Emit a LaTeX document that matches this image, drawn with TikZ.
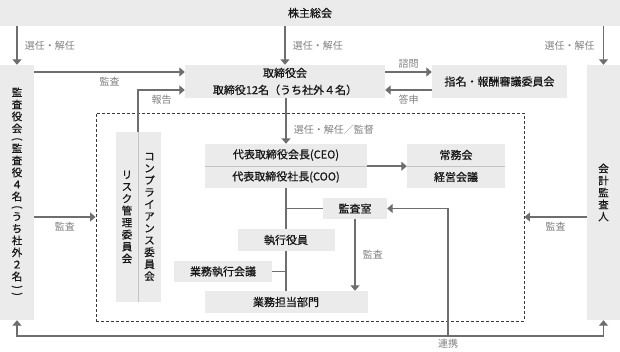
\documentclass[tikz,border=0pt]{standalone}
\usepackage{fontspec}
\setmainfont{Noto Sans CJK JP}
\newfontfamily\boxfont{Noto Sans CJK JP}[FakeBold=0.7]
\usetikzlibrary{arrows.meta}
\definecolor{boxfill}{HTML}{EBEBEB}
\definecolor{ink}{HTML}{161616}
\definecolor{wire}{HTML}{6E6E6E}
\definecolor{note}{HTML}{808080}
\definecolor{rule}{HTML}{C4C4C4}
\definecolor{frameline}{HTML}{3A3A3A}
\tikzset{
  box/.style={fill=boxfill,inner sep=0pt,text=ink,align=center,font=\boxfont\fontsize{11}{13}\selectfont},
  vbox/.style={box,font=\boxfont\fontsize{10.5}{12}\selectfont},
  lbl/.style={font=\fontsize{10}{12}\selectfont,text=note,inner sep=2pt},
  arr/.style={-{Triangle[length=5.5pt,width=9pt]},wire,line width=1.6pt},
  arr2/.style={{Triangle[length=5.5pt,width=9pt]}-{Triangle[length=5.5pt,width=9pt]},wire,line width=1.6pt},
  link/.style={wire,line width=1.6pt},
}

\begin{document}
\begin{tikzpicture}[x=1pt,y=-1pt]
\useasboundingbox (0,0) rectangle (620,351);
\node[draw=frameline,dash pattern=on 3pt off 2pt,line width=0.9pt,minimum width=428pt,minimum height=208pt,inner sep=0pt] (frame) at (310,217) {};
\node[box,minimum width=620pt,minimum height=26pt] (shm) at (310,13) {株主総会};
\node[vbox,minimum width=34pt,minimum height=255pt] (kansa) at (17,192.5)
  {監\\査\\役\\会\\[-2pt]\rotatebox[origin=c]{-90}{(}\\[-2pt]監\\査\\役\\４\\名\\[-2pt]\rotatebox[origin=c]{-90}{(}\\[-2pt]う\\ち\\社\\外\\２\\名\\[-2pt]\rotatebox[origin=c]{-90}{)}\\[-5pt]\rotatebox[origin=c]{-90}{)}};
\node[vbox,minimum width=33pt,minimum height=255pt] (kaikei) at (603.5,192.5) {会\\計\\監\\査\\人};
\node[box,font=\boxfont\fontsize{11}{17}\selectfont,minimum width=200pt,minimum height=33pt] (board) at (285,81.5)
  {取締役会\\取締役12名（うち社外４名）};
\node[box,minimum width=135pt,minimum height=33pt] (nomi) at (499.5,81.5) {指名・報酬審議委員会};
\node[box,minimum width=162pt,minimum height=22pt] (ceo) at (286,155) {代表取締役会長(CEO)};
\node[box,minimum width=162pt,minimum height=22pt] (coo) at (286,177) {代表取締役社長(COO)};
\node[box,minimum width=98pt,minimum height=22pt] (jomu) at (456,155) {常務会};
\node[box,minimum width=98pt,minimum height=22pt] (keiei) at (456,177) {経営会議};
\node[vbox,minimum width=22pt,minimum height=170pt] (risk) at (127,217) {リ\\ス\\ク\\管\\理\\委\\員\\会};
\node[vbox,minimum width=23pt,minimum height=170pt] (comp) at (149.5,217) {コ\\ン\\プ\\ラ\\イ\\ア\\ン\\ス\\委\\員\\会};
\node[box,minimum width=64pt,minimum height=21pt] (shitsu) at (355,208.5) {監査室};
\node[box,minimum width=97pt,minimum height=22pt] (shikko) at (286,240) {執行役員};
\node[box,minimum width=98pt,minimum height=21pt] (kaigi) at (223,271.5) {業務執行会議};
\node[box,minimum width=163pt,minimum height=22pt] (tanto) at (286,302) {業務担当部門};
\draw[rule,line width=0.8pt] (ceo.south west) -- (ceo.south east);
\draw[rule,line width=0.8pt] (jomu.south west) -- (jomu.south east);
\draw[rule,line width=0.8pt] (risk.north east) -- (risk.south east);
\coordinate (bdin1) at ([yshift=9.5pt]board.west);
\coordinate (bdin2) at ([yshift=-8.5pt]board.west);
\coordinate (bdout1) at ([yshift=9.5pt]board.east);
\coordinate (bdout2) at ([yshift=-8.5pt]board.east);
\coordinate (rk) at (448,336);
\draw[arr] (shm.south -| kansa.north) -- node[lbl,right=5pt]{選任・解任} (kansa.north);
\draw[arr] (shm.south -| board.north) -- node[lbl,right=5pt]{選任・解任} (board.north);
\draw[arr] (shm.south -| kaikei.north) -- node[lbl,left=6pt]{選任・解任} (kaikei.north);
\draw[arr] (kansa.east |- bdin1) -- node[lbl,below=2pt]{監査} (bdin1);
\draw[arr] (risk.north east) |- node[lbl,pos=0.75,below=2pt]{報告} (bdin2);
\draw[arr] (bdout1) -- node[lbl,above=1pt]{諮問} (nomi.west |- bdout1);
\draw[arr] (nomi.west |- bdout2) -- node[lbl,below=2pt]{答申} (bdout2);
\draw[arr] (board.south -| ceo.north) -- node[lbl,pos=0.68,right=5pt]{選任・解任／監督} (ceo.north);
\draw[arr] (ceo.south east) -- (jomu.south west);
\draw[link] (coo.south) -- (shikko.north);
\draw[link] (shitsu.west) -- (shitsu.west -| coo.south);
\draw[link] (shikko.south) -- (tanto.north);
\draw[link] (kaigi.east) -- (kaigi.east -| shikko.south);
\draw[arr] (shitsu.south) -- node[lbl,right=5pt]{監査} (shitsu.south |- tanto.north);
\draw[arr] (kansa.east |- frame.west) -- node[lbl,below=2pt]{監査} (frame.west);
\draw[arr] (kaikei.west |- frame.east) -- node[lbl,below=2pt]{監査} (frame.east);
\draw[arr2] (kansa.south) -- (kansa.south |- rk) -- (kaikei.south |- rk) -- (kaikei.south);
\draw[arr] (rk) |- (shitsu.east);
\node[lbl,below=1pt] (renkei) at (rk) {連携};
\end{tikzpicture}
\end{document}
